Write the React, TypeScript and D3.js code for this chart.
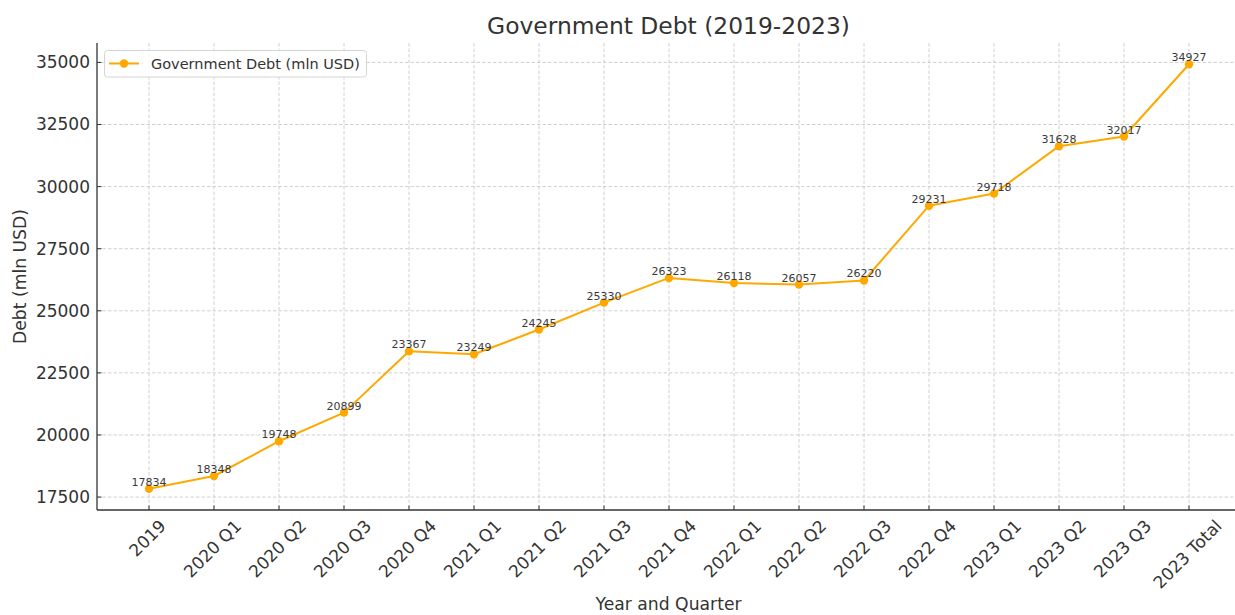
import React, { useEffect, useRef } from "react";
import * as d3 from "d3";

const categories = [
  "2019", "2020 Q1", "2020 Q2", "2020 Q3", "2020 Q4",
  "2021 Q1", "2021 Q2", "2021 Q3", "2021 Q4",
  "2022 Q1", "2022 Q2", "2022 Q3", "2022 Q4",
  "2023 Q1", "2023 Q2", "2023 Q3", "2023 Total",
];
const debtValues = [
  17834, 18348, 19748, 20899, 23367, 23249, 24245, 25330, 26323,
  26118, 26057, 26220, 29231, 29718, 31628, 32017, 34927,
];
const yTicks = [17500, 20000, 22500, 25000, 27500, 30000, 32500, 35000];
const seriesName = "Government Debt (mln USD)";
const titleText = "Government Debt (2019-2023)";
const xLabel = "Year and Quarter";
const yLabel = "Debt (mln USD)";

const W = 1235;
const H = 615;
const FONT = "'DejaVu Sans', sans-serif";
const LINE_COLOR = "#FFA800";
const TEXT_COLOR = "#333333";
const SPINE_COLOR = "#333333";

export default function App() {
  const ref = useRef<SVGSVGElement | null>(null);

  useEffect(() => {
    const svg = d3.select(ref.current);
    svg.selectAll("*").remove();

    const left = 97, right = 1241, top = 43, bottom = 510;
    const n = categories.length;
    const x = d3.scaleLinear().domain([-0.8, n - 1 + 0.8]).range([left, right]);
    const yMin = d3.min(debtValues)!, yMax = d3.max(debtValues)!;
    const pad = (yMax - yMin) * 0.05;
    const y = d3.scaleLinear().domain([yMin - pad, yMax + pad]).range([bottom, top]);

    svg.append("rect").attr("width", W).attr("height", H).attr("fill", "#fff");

    // grid
    const grid = svg.append("g");
    grid.selectAll("line.v").data(categories).enter().append("line")
      .attr("x1", (_, i) => x(i)).attr("x2", (_, i) => x(i))
      .attr("y1", top).attr("y2", bottom)
      .attr("stroke", "#c4c4c4").attr("stroke-width", 0.8).attr("stroke-dasharray", "3.5,2");
    grid.selectAll("line.h").data(yTicks).enter().append("line")
      .attr("x1", left).attr("x2", right)
      .attr("y1", d => y(d)).attr("y2", d => y(d))
      .attr("stroke", "#c4c4c4").attr("stroke-width", 0.8).attr("stroke-dasharray", "3.5,2");

    // spines
    svg.append("line").attr("x1", left).attr("x2", left).attr("y1", top).attr("y2", bottom)
      .attr("stroke", SPINE_COLOR).attr("stroke-width", 1.3);
    svg.append("line").attr("x1", left).attr("x2", right).attr("y1", bottom).attr("y2", bottom)
      .attr("stroke", SPINE_COLOR).attr("stroke-width", 1.3);

    // y ticks
    const yt = svg.append("g");
    yTicks.forEach(t => {
      yt.append("line").attr("x1", left).attr("x2", left + 4.5).attr("y1", y(t)).attr("y2", y(t))
        .attr("stroke", SPINE_COLOR).attr("stroke-width", 1);
      yt.append("text").attr("x", left - 7).attr("y", y(t)).attr("dy", "0.35em")
        .attr("text-anchor", "end").attr("font-family", FONT).attr("font-size", 17)
        .attr("fill", TEXT_COLOR).text(String(t));
    });

    // x ticks
    const fs = 17;
    const xt = svg.append("g");
    categories.forEach((c, i) => {
      const cx = x(i);
      xt.append("line").attr("x1", cx).attr("x2", cx).attr("y1", bottom).attr("y2", bottom - 4.5)
        .attr("stroke", SPINE_COLOR).attr("stroke-width", 1);
      const g = xt.append("g");
      const t = g.append("text").attr("text-anchor", "middle").attr("font-family", FONT)
        .attr("font-size", fs).attr("fill", TEXT_COLOR).text(c);
      const w = (t.node() as SVGTextElement).getComputedTextLength();
      const h = fs * 1.164;
      const cy = bottom + 6 + (w + h) * 0.35355;
      t.attr("x", 0).attr("y", ((0.928 - 0.236) / 2) * fs);
      g.attr("transform", `translate(${cx - 1.5},${cy}) rotate(-45)`);
    });

    // line
    const line = d3.line<number>().x((_, i) => x(i)).y(d => y(d));
    svg.append("path").datum(debtValues).attr("d", line)
      .attr("fill", "none").attr("stroke", LINE_COLOR).attr("stroke-width", 2)
      .attr("stroke-linejoin", "round");
    svg.selectAll("circle.pt").data(debtValues).enter().append("circle")
      .attr("cx", (_, i) => x(i)).attr("cy", d => y(d)).attr("r", 4.2)
      .attr("fill", LINE_COLOR);

    // annotations
    svg.selectAll("text.ann").data(debtValues).enter().append("text")
      .attr("x", (_, i) => x(i)).attr("y", d => y(d) - 3)
      .attr("text-anchor", "middle").attr("font-family", FONT).attr("font-size", 11)
      .attr("fill", "#3a3a3a").text(d => String(d));

    // title & labels
    svg.append("text").attr("x", 668.5).attr("y", 34)
      .attr("text-anchor", "middle").attr("font-family", FONT).attr("font-size", 23.4)
      .attr("fill", TEXT_COLOR).text(titleText);
    svg.append("text").attr("x", 668.5).attr("y", 610)
      .attr("text-anchor", "middle").attr("font-family", FONT).attr("font-size", 17.2)
      .attr("fill", TEXT_COLOR).text(xLabel);
    svg.append("text").attr("transform", `translate(26,${(top + bottom) / 2}) rotate(-90)`)
      .attr("text-anchor", "middle").attr("font-family", FONT).attr("font-size", 17.2)
      .attr("fill", TEXT_COLOR).text(yLabel);

    // legend
    const lg = svg.append("g");
    lg.append("rect").attr("x", 104.5).attr("y", 50.5).attr("width", 262).attr("height", 26.5)
      .attr("rx", 3).attr("fill", "#fff").attr("fill-opacity", 0.85)
      .attr("stroke", "#d5d5d5").attr("stroke-width", 1);
    lg.append("line").attr("x1", 109).attr("x2", 139).attr("y1", 63.5).attr("y2", 63.5)
      .attr("stroke", LINE_COLOR).attr("stroke-width", 2);
    lg.append("circle").attr("cx", 124).attr("cy", 63.5).attr("r", 4.2).attr("fill", LINE_COLOR);
    lg.append("text").attr("x", 151).attr("y", 63.5).attr("dy", "0.35em")
      .attr("font-family", FONT).attr("font-size", 14.5).attr("fill", TEXT_COLOR).text(seriesName);
  }, []);

  return (
    <svg ref={ref} width={W} height={H}
      style={{ position: "absolute", left: 0, top: 0, display: "block" }} />
  );
}
